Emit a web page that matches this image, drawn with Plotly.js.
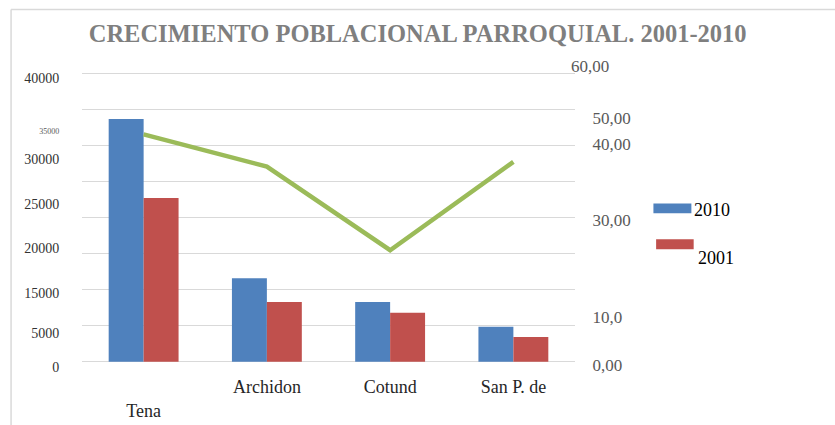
<!DOCTYPE html>
<html>
<head>
<meta charset="utf-8">
<script src="https://cdn.plot.ly/plotly-3.0.1.min.js"></script>
<style>html,body{margin:0;padding:0;background:#fff;}#chart{width:835px;height:425px;}</style>
</head>
<body>
<div id="chart"></div>
<script>
// ---- data ----
var categories = ['Tena', 'Archidon', 'Cotund', 'San P. de'];
var categoryLabels = ['<br>Tena', 'Archidon', 'Cotund', 'San P. de'];
var pop2010 = [33670, 11570, 8280, 4860];
var pop2001 = [22710, 8280, 6800, 3430];
var growth = [47.3, 40.6, 23.2, 41.6];
var leftTickLabels = ['40000', '<span style="font-size:8px;fill:rgb(90,90,90)">35000</span>', '30000', '25000', '20000', '15000', '5000', '0'];
var rightTickLabels = ['50,00', '40,00', '30,00', '10,0', '0,00'];
var rightTopLabel = '60,00';
var seriesNames = ['2010', '2001'];
var titleText = 'CRECIMIENTO POBLACIONAL PARROQUIAL. 2001-2010';

// ---- layout helpers (positions only) ----
var W = 835, H = 425;
var L = 82, R = 575.5, T = 56, B = 370;
function px(x) { return (x - L) / (R - L); }
function py(y) { return (B - y) / (B - T); }
var leftTickPos = [39320, 32286, 28124, 21880, 15734, 9490, 3940, -777];
var rightTickPos = [50.66, 45.31, 29.49, 9.37, -0.69];

var blue = '#4f81bd', red = '#c0504d', green = '#9bbb59', grid = '#d9d9d9';
var serif = '"Liberation Serif", "DejaVu Serif", serif';

var traces = [
  {type: 'bar', x: categories, y: pop2010, name: seriesNames[0], marker: {color: blue}, yaxis: 'y', showlegend: false},
  {type: 'bar', x: categories, y: pop2001, name: seriesNames[1], marker: {color: red}, yaxis: 'y', showlegend: false},
  {type: 'scatter', mode: 'lines', x: categories, y: growth, name: 'Crecimiento', line: {color: green, width: 4.5}, yaxis: 'y2', showlegend: false},
  {type: 'scatter', mode: 'none', x: categories, y: pop2010, yaxis: 'y3', showlegend: false, hoverinfo: 'skip'}
];

var layout = {
  width: W, height: H,
  margin: {l: L, r: W - R, t: T, b: H - B, pad: 0},
  paper_bgcolor: '#ffffff', plot_bgcolor: 'rgba(0,0,0,0)',
  barmode: 'group', bargap: 0.433, bargroupgap: 0,
  showlegend: false,
  title: {
    text: titleText,
    font: {family: serif, size: 24.5, color: '#7f7f7f', weight: 'bold'},
    x: px(418), xref: 'paper', y: 1 - 33 / H, yref: 'container', xanchor: 'center', yanchor: 'middle'
  },
  xaxis: {
    type: 'category', range: [-0.5, 3.5],
    tickvals: categories, ticktext: categoryLabels,
    showgrid: false, zeroline: false, showline: false,
    ticks: 'outside', ticklen: 0.5, tickcolor: 'rgba(0,0,0,0)',
    tickfont: {family: serif, size: 18, color: '#262626'}
  },
  yaxis: {
    range: [-1152, 42414], tick0: 0, dtick: 5000,
    showgrid: true, gridcolor: grid, gridwidth: 1.5,
    zeroline: false, showline: false, showticklabels: false, ticks: ''
  },
  yaxis3: {
    overlaying: 'y', side: 'left', range: [-1152, 42414],
    tickmode: 'array', tickvals: leftTickPos, ticktext: leftTickLabels,
    showgrid: false, zeroline: false, showline: false,
    ticks: 'outside', ticklen: 19, tickcolor: 'rgba(0,0,0,0)',
    tickfont: {family: serif, size: 14, color: '#333333'}
  },
  yaxis2: {
    overlaying: 'y', side: 'right', range: [-1.727, 63.62],
    tickmode: 'array', tickvals: rightTickPos, ticktext: rightTickLabels,
    showgrid: false, zeroline: false, showline: false,
    ticks: 'outside', ticklen: 13, tickcolor: 'rgba(0,0,0,0)',
    tickfont: {family: serif, size: 17, color: '#595959'}
  },
  shapes: [
    {type: 'line', xref: 'paper', yref: 'paper', x0: px(11), x1: px(11), y0: py(9.5), y1: py(H + 2), line: {color: grid, width: 1.5}},
    {type: 'line', xref: 'paper', yref: 'paper', x0: px(11), x1: px(W + 2), y0: py(9.5), y1: py(9.5), line: {color: grid, width: 1.5}},
    {type: 'rect', xref: 'paper', yref: 'paper', x0: px(654), x1: px(692), y0: py(213.3), y1: py(203.5), fillcolor: blue, line: {width: 0}},
    {type: 'rect', xref: 'paper', yref: 'paper', x0: px(656.7), x1: px(694.3), y0: py(249.3), y1: py(239.3), fillcolor: red, line: {width: 0}}
  ],
  annotations: [
    {text: rightTopLabel, xref: 'paper', yref: 'paper', x: px(569), y: py(66), xanchor: 'left', yanchor: 'middle', showarrow: false,
     font: {family: serif, size: 17, color: '#595959'}},
    {text: seriesNames[0], xref: 'paper', yref: 'paper', x: px(693), y: py(210), xanchor: 'left', yanchor: 'middle', showarrow: false,
     font: {family: serif, size: 18, color: '#000000'}},
    {text: seriesNames[1], xref: 'paper', yref: 'paper', x: px(697), y: py(258), xanchor: 'left', yanchor: 'middle', showarrow: false,
     font: {family: serif, size: 18, color: '#000000'}}
  ]
};

Plotly.newPlot('chart', traces, layout, {displayModeBar: false, staticPlot: true});
</script>
</body>
</html>
